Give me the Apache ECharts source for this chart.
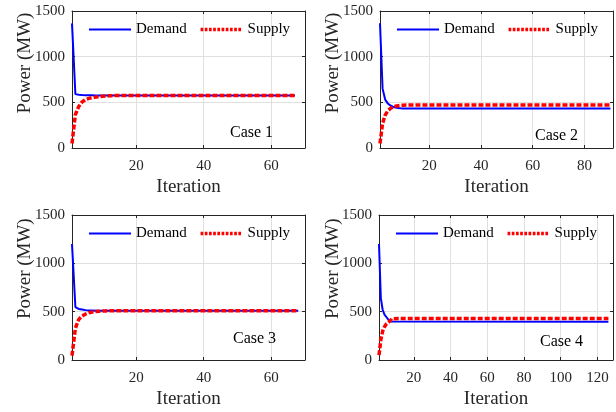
<!DOCTYPE html>
<html><head><meta charset="utf-8">
<script src="https://cdn.jsdelivr.net/npm/echarts@6/dist/echarts.min.js"></script>
<style>html,body{margin:0;padding:0;background:#fff}#c{width:616px;height:412px}</style>
</head><body><div id="c"></div>
<script>
// ---- data ----
const caseNames = ['Case 1', 'Case 2', 'Case 3', 'Case 4'];
const seriesNames = ['Demand', 'Supply'];
const yTicks = [0, 500, 1000, 1500];
const xTicks1 = [20, 40, 60];
const xTicks2 = [20, 40, 60, 80];
const xTicks3 = [20, 40, 60];
const xTicks4 = [20, 40, 60, 80, 100, 120];
const xMax = [70, 91, 70, 128.5];

const iterD1 = [1, 2, 3, 4, 5, 6, 7, 8, 9, 10, 67];
const demand1 = [1365, 590, 584, 580, 578, 577, 577, 576, 576, 576, 576];
const iterS1 = [1, 2, 3, 4, 5, 6, 7, 8, 9, 10, 11, 12, 13, 14, 67];
const supply1 = [50, 365, 455, 505, 530, 543, 551, 557, 562, 566, 569, 571, 573, 575, 576];

const iterD2 = [1, 2, 3, 4, 5, 6, 7, 8, 9, 10, 90];
const demand2 = [1365, 650, 530, 488, 465, 452, 444, 438, 435, 433, 432];
const iterS2 = [1, 2, 3, 4, 5, 6, 7, 8, 9, 10, 11, 12, 90];
const supply2 = [50, 270, 360, 405, 432, 447, 457, 463, 467, 469, 470, 471, 471];

const iterD3 = [1, 2, 3, 4, 5, 6, 7, 8, 68];
const demand3 = [1200, 548, 528, 522, 516, 512, 511, 510, 510];
const iterS3 = [1, 2, 3, 4, 5, 6, 7, 8, 9, 10, 11, 12, 13, 68];
const supply3 = [45, 330, 420, 455, 475, 488, 496, 501, 504, 506, 508, 509, 510, 510];

const iterD4 = [1, 2, 3, 4, 5, 6, 7, 8, 126];
const demand4 = [1200, 640, 520, 470, 445, 420, 398, 396, 396];
const iterS4 = [1, 2, 3, 4, 5, 6, 7, 8, 9, 126];
const supply4 = [50, 210, 300, 345, 372, 392, 404, 428, 430, 430];

// ---- layout / style ----
const FONT = 'Liberation Serif';
const TXT = '#262626';
const AX = '#262626';
const GRIDC = '#e0e0e0';
const grids = [
  {left: 72, top: 11, width: 233, height: 137},
  {left: 380, top: 11, width: 233, height: 137},
  {left: 72, top: 215, width: 233, height: 145},
  {left: 379, top: 215, width: 234, height: 145}
];
const xTickSets = [xTicks1, xTicks2, xTicks3, xTicks4];
const sets = [
  [iterD1, demand1, iterS1, supply1],
  [iterD2, demand2, iterS2, supply2],
  [iterD3, demand3, iterS3, supply3],
  [iterD4, demand4, iterS4, supply4]
];
const pair = (xs, ys) => xs.map((x, i) => [x, ys[i]]);
const hiddenSym = {color: 'rgba(0,0,0,0)', borderWidth: 0, opacity: 0};

const xAxes = [], yAxes = [], series = [], legends = [], graphics = [];
grids.forEach((g, i) => {
  const common = {type: 'value', gridIndex: i, min: 1, max: xMax[i]};
  xAxes.push(Object.assign({}, common, {
    position: 'bottom',
    name: 'Iteration', nameLocation: 'middle', nameGap: 30,
    nameTextStyle: {fontFamily: FONT, fontSize: 19, color: TXT},
    axisLine: {onZero: false, lineStyle: {color: AX, width: 1}},
    axisTick: {inside: true, length: 3, customValues: xTickSets[i], lineStyle: {color: AX}},
    axisLabel: {customValues: xTickSets[i], margin: 11, fontFamily: FONT, fontSize: 15, color: TXT,
                formatter: v => String(v)},
    splitLine: {show: true, lineStyle: {color: GRIDC, width: 1}}
  }));
  xAxes.push(Object.assign({}, common, {
    position: 'top',
    axisLine: {onZero: false, lineStyle: {color: AX, width: 1}},
    axisTick: {inside: true, length: 3, customValues: xTickSets[i], lineStyle: {color: AX}},
    axisLabel: {show: false}, splitLine: {show: false}
  }));
  const ycommon = {type: 'value', gridIndex: i, min: yTicks[0], max: yTicks[yTicks.length - 1], interval: 500};
  yAxes.push(Object.assign({}, ycommon, {
    position: 'left',
    axisLine: {show: true, onZero: false, lineStyle: {color: AX, width: 1}},
    axisTick: {show: true, inside: true, length: 3, lineStyle: {color: AX}},
    axisLabel: {margin: 7, fontFamily: FONT, fontSize: 15, color: TXT, formatter: v => String(v)},
    splitLine: {show: true, lineStyle: {color: GRIDC, width: 1}}
  }));
  yAxes.push(Object.assign({}, ycommon, {
    position: 'right',
    axisLine: {show: true, onZero: false, lineStyle: {color: AX, width: 1}},
    axisTick: {show: true, inside: true, length: 3, lineStyle: {color: AX}},
    axisLabel: {show: false}, splitLine: {show: false}
  }));
  const s = sets[i];
  series.push({
    name: seriesNames[0], type: 'line', xAxisIndex: 2 * i, yAxisIndex: 2 * i,
    data: pair(s[0], s[1]), symbol: 'none', showSymbol: false, animation: false,
    lineStyle: {color: '#0000ff', width: 2}, itemStyle: {color: '#0000ff'}
  });
  series.push({
    name: seriesNames[1], type: 'line', xAxisIndex: 2 * i, yAxisIndex: 2 * i,
    data: pair(s[2], s[3]), symbol: 'none', showSymbol: false, animation: false,
    lineStyle: {color: '#ff0000', width: 3.5, type: [5, 2]}, itemStyle: {color: '#ff0000'}
  });
  legends.push({
    left: g.left + 16, top: g.top + 11, padding: 0,
    itemWidth: 42, itemHeight: 14, itemGap: 12, selectedMode: false,
    textStyle: {fontFamily: FONT, fontSize: 15, color: '#000'},
    data: [
      {name: seriesNames[0], itemStyle: hiddenSym, lineStyle: {width: 2, color: '#0000ff', type: 'solid'}},
      {name: seriesNames[1], itemStyle: hiddenSym, lineStyle: {width: 3.5, color: '#ff0000', type: [2.7, 1.5]}}
    ]
  });
});

const caseX = [230, 535, 233, 540];
const caseY = [133, 136, 338.7, 342];
caseNames.forEach((t, i) => {
  graphics.push({
    type: 'text', x: caseX[i], y: caseY[i], z: 100,
    style: {text: t, font: '16px "' + FONT + '"', fill: '#000',
            align: 'left', verticalAlign: 'middle', textAlign: 'left', textVerticalAlign: 'middle'}
  });
});
const yNameX = [25, 333, 25, 333];
const yNameY = [63, 63, 268.7, 268.7];
yNameX.forEach((x, i) => {
  graphics.push({
    type: 'text', x: x, y: yNameY[i], rotation: Math.PI / 2, z: 100,
    style: {text: 'Power (MW)', font: '19px "' + FONT + '"', fill: TXT,
            align: 'center', verticalAlign: 'middle', textAlign: 'center', textVerticalAlign: 'middle'}
  });
});

const chart = echarts.init(document.getElementById('c'), null, {renderer: 'canvas'});
chart.setOption({
  animation: false,
  backgroundColor: '#fff',
  grid: grids,
  xAxis: xAxes,
  yAxis: yAxes,
  legend: legends,
  series: series,
  graphic: graphics
});
</script></body></html>
